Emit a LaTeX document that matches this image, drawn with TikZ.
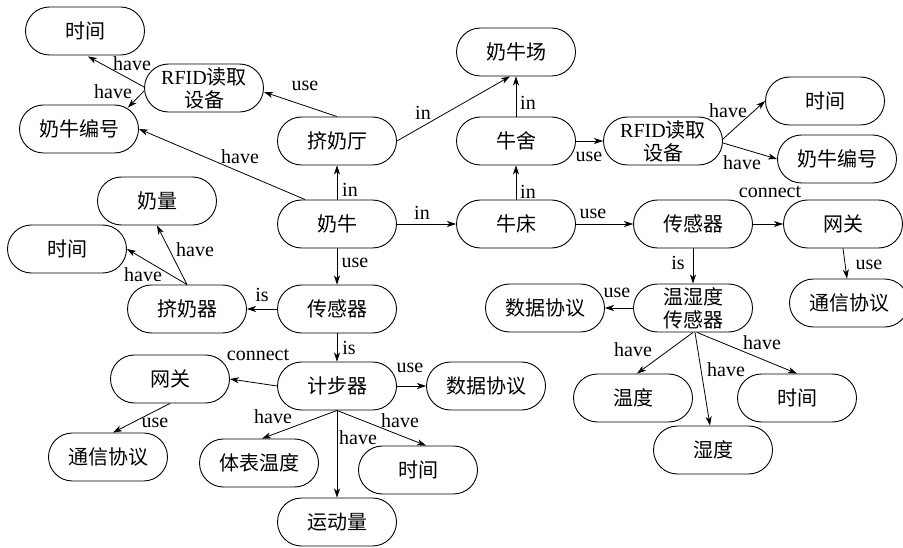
\documentclass[tikz,border=0pt]{standalone}
\usepackage{fontspec}
\setmainfont{Liberation Serif}
\newfontfamily\cjk{Noto Sans CJK SC}
\usetikzlibrary{arrows.meta,calc}
\tikzset{
  ent/.style={draw, line width=0.9pt, rounded corners=24pt, minimum width=119pt, minimum height=48pt,
    inner sep=0pt, align=center, font=\cjk\fontsize{20}{23}\selectfont},
  lbl/.style={inner sep=0pt, font=\fontsize{20}{22}\selectfont},
  arr/.style={-{Stealth[length=9pt,width=6pt,inset=2.5pt]}, line width=0.8pt}
}
\begin{document}
\begin{tikzpicture}[x=1pt,y=-1pt]
\useasboundingbox (0,0) rectangle (903,548);
% nodes
\node[ent] (timeTL) at (85,31) {时间};
\node[ent] (rfidL) at (204,88) {{\rmfamily RFID}读取\\设备};
\node[ent] (idL) at (79,129) {奶牛编号};
\node[ent] (hall) at (337,141) {挤奶厅};
\node[ent] (farm) at (516,52) {奶牛场};
\node[ent] (shed) at (516,141) {牛舍};
\node[ent] (rfidR) at (663,141) {{\rmfamily RFID}读取\\设备};
\node[ent] (timeR) at (825,101) {时间};
\node[ent] (idR) at (837,159) {奶牛编号};
\node[ent] (milk) at (157,201) {奶量};
\node[ent] (timeML) at (67,249) {时间};
\node[ent] (cow) at (337,224) {奶牛};
\node[ent] (bed) at (516,224) {牛床};
\node[ent] (sensR) at (693,224) {传感器};
\node[ent] (gwR) at (843,224) {网关};
\node[ent] (milker) at (187,309) {挤奶器};
\node[ent] (sensL) at (337,309) {传感器};
\node[ent] (th) at (693,308) {温湿度\\传感器};
\node[ent] (dataR) at (545,308) {数据协议};
\node[ent] (protoR) at (849,303) {通信协议};
\node[ent] (gwL) at (170,379) {网关};
\node[ent] (pedo) at (337,386) {计步器};
\node[ent] (dataM) at (486,386) {数据协议};
\node[ent] (protoL) at (108,457) {通信协议};
\node[ent] (bt) at (259,463) {体表温度};
\node[ent] (timeB) at (418,470) {时间};
\node[ent] (motion) at (337,522) {运动量};
\node[ent] (temp) at (633,398) {温度};
\node[ent] (hum) at (713,450) {湿度};
\node[ent] (timeBR) at (797,398) {时间};
% edges
\draw[arr] (cow.north) -- (hall.south);
\draw[arr] ($(cow.north west)+(28,0)$) -- (idL.east);
\draw[arr] (hall.north) -- ($(rfidL.east)+(0,4)$);
\draw[arr] (hall.east) -- ($(farm.south)+(-6,0)$);
\draw[arr] ($(rfidL.west)+(0,-1)$) -- ($(timeTL.south)+(3,1)$);
\draw[arr] ($(rfidL.west)+(0,3)$) -- ($(idL.north east)+(-11,3)$);
\draw[arr] (shed.north) -- (farm.south);
\draw[arr] (shed.east) -- (rfidR.west);
\draw[arr] ($(rfidR.east)+(0,-2)$) -- (timeR.west);
\draw[arr] ($(rfidR.east)+(0,2)$) -- (idR.west);
\draw[arr] (bed.north) -- (shed.south);
\draw[arr] (cow.east) -- (bed.west);
\draw[arr] (bed.east) -- (sensR.west);
\draw[arr] (sensR.east) -- (gwR.west);
\draw[arr] (gwR.south) -- ($(protoR.north)+(-2,0)$);
\draw[arr] (sensR.south) -- (th.north);
\draw[arr] (th.west) -- (dataR.east);
\draw[arr] (th.south) -- ($(temp.north)+(4,0)$);
\draw[arr] ($(th.south)+(2,0)$) -- ($(hum.north)+(-3,0)$);
\draw[arr] ($(th.south)+(4,0)$) -- (timeBR.north);
\draw[arr] (cow.south) -- (sensL.north);
\draw[arr] (sensL.west) -- (milker.east);
\draw[arr] (milker.north) -- (milk.south);
\draw[arr] (milker.north) -- (timeML.east);
\draw[arr] (sensL.south) -- (pedo.north);
\draw[arr] (pedo.west) -- (gwL.east);
\draw[arr] (pedo.east) -- (dataM.west);
\draw[arr] (gwL.south) -- ($(protoL.north)+(5,0)$);
\draw[arr] (pedo.south) -- ($(bt.north)+(3,0)$);
\draw[arr] (pedo.south) -- (motion.north);
\draw[arr] (pedo.south) -- ($(timeB.north)+(8,0)$);
% labels
\node[lbl] (l1) at (350,190) {in};
\node[lbl] (l2) at (240,157) {have};
\node[lbl] (l3) at (305,86) {use};
\node[lbl] (l4) at (423,113) {in};
\node[lbl] (l5) at (132,64) {have};
\node[lbl] (l6) at (113,92) {have};
\node[lbl] (l7) at (528,103) {in};
\node[lbl] (l8) at (589,157) {use};
\node[lbl] (l9) at (728,111) {have};
\node[lbl] (l10) at (742,163) {have};
\node[lbl] (l11) at (770,192) {connect};
\node[lbl] (l12) at (528,192) {in};
\node[lbl] (l13) at (422,213) {in};
\node[lbl] (l14) at (593,214) {use};
\node[lbl] (l15) at (869,265) {use};
\node[lbl] (l16) at (678,263) {is};
\node[lbl] (l17) at (617,293) {use};
\node[lbl] (l18) at (633,350) {have};
\node[lbl] (l19) at (726,370) {have};
\node[lbl] (l20) at (762,343) {have};
\node[lbl] (l21) at (355,263) {use};
\node[lbl] (l22) at (262,295) {is};
\node[lbl] (l23) at (195,250) {have};
\node[lbl] (l24) at (143,275) {have};
\node[lbl] (l25) at (349,348) {is};
\node[lbl] (l26) at (258,355) {connect};
\node[lbl] (l27) at (410,368) {use};
\node[lbl] (l28) at (155,423) {use};
\node[lbl] (l29) at (273,417) {have};
\node[lbl] (l30) at (358,438) {have};
\node[lbl] (l31) at (400,421) {have};
\end{tikzpicture}
\end{document}
